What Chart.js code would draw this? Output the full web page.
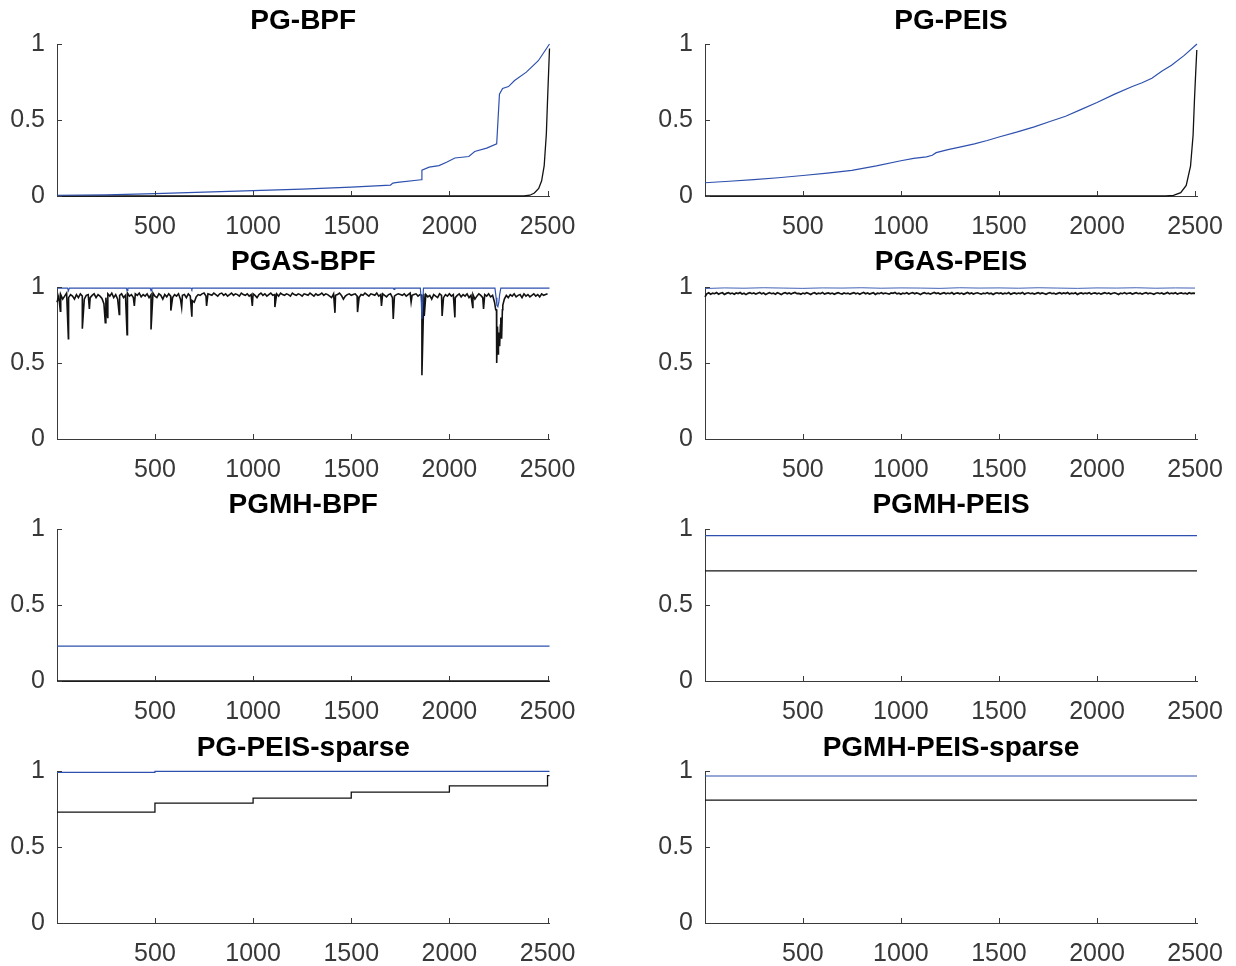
<!DOCTYPE html>
<html>
<head>
<meta charset="utf-8">
<script src="https://cdn.jsdelivr.net/npm/chart.js@4.4.1/dist/chart.umd.min.js"></script>
<style>
  html, body { margin: 0; padding: 0; background: #fff; width: 1236px; height: 966px; overflow: hidden; }
  canvas { position: absolute; }
</style>
</head>
<body>
<script>
// ---- shared axis ticks ----
const xTicks = [500, 1000, 1500, 2000, 2500];
const yTicks = [0, 0.5, 1];
const iterMin = 1;
const iterMax = 2510;

// ---- PG-BPF ----
const pgBpfBlueX = [1, 250, 500, 750, 1000, 1250, 1500, 1700, 1712, 1735, 1856, 1860, 1897, 1947, 1988, 2028, 2099, 2129, 2190, 2241, 2255, 2271, 2301, 2332, 2392, 2453, 2510];
const pgBpfBlueY = [0.005, 0.008, 0.015, 0.025, 0.035, 0.045, 0.059, 0.072, 0.085, 0.09, 0.107, 0.17, 0.19, 0.2, 0.224, 0.25, 0.26, 0.293, 0.315, 0.343, 0.67, 0.707, 0.72, 0.76, 0.815, 0.89, 1.0];
const pgBpfBlackX = [1, 2380, 2410, 2433, 2455, 2470, 2483, 2494, 2500, 2505, 2510];
const pgBpfBlackY = [0, 0, 0.005, 0.02, 0.05, 0.1, 0.2, 0.41, 0.63, 0.8, 0.97];

// ---- PG-PEIS ----
const pgPeisBlueX = [1, 125, 250, 375, 500, 625, 750, 875, 1000, 1065, 1130, 1160, 1180, 1240, 1300, 1375, 1440, 1500, 1590, 1680, 1760, 1840, 1920, 2000, 2090, 2180, 2230, 2280, 2330, 2380, 2445, 2510];
const pgPeisBlueY = [0.087, 0.097, 0.108, 0.12, 0.135, 0.15, 0.168, 0.198, 0.232, 0.248, 0.258, 0.268, 0.285, 0.305, 0.322, 0.343, 0.365, 0.388, 0.42, 0.455, 0.49, 0.525, 0.57, 0.615, 0.67, 0.72, 0.745, 0.775, 0.82, 0.86, 0.925, 1.0];
const pgPeisBlackX = [1, 2350, 2390, 2427, 2455, 2477, 2490, 2497, 2503, 2509];
const pgPeisBlackY = [0, 0, 0.004, 0.022, 0.07, 0.196, 0.4, 0.63, 0.8, 0.96];

// ---- PGAS-BPF (black sampled every 10 iterations, plus the deep dips) ----
const pgasBpfBlackBase = [
  0.90, 0.94, 0.95, 0.92, 0.94, 0.96, 0.93, 0.95, 0.94, 0.92, 0.95, 0.93, 0.955, 0.94, 0.92, 0.945, 0.95, 0.93, 0.945, 0.955, 0.93, 0.95, 0.94, 0.925, 0.89,
  0.93, 0.955, 0.94, 0.96, 0.93, 0.95, 0.92, 0.945, 0.955, 0.93, 0.945, 0.96, 0.94, 0.95, 0.93, 0.955, 0.945, 0.96, 0.935, 0.95, 0.94, 0.955, 0.93, 0.95, 0.96,
  0.94, 0.93, 0.955, 0.945, 0.92, 0.95, 0.935, 0.955, 0.94, 0.93, 0.95, 0.94, 0.955, 0.92, 0.945, 0.95, 0.93, 0.955, 0.94, 0.91, 0.9, 0.935, 0.95, 0.945, 0.955,
  0.96, 0.94, 0.955, 0.95, 0.945, 0.96, 0.95, 0.94, 0.955, 0.96, 0.945, 0.955, 0.94, 0.95, 0.96, 0.945, 0.955, 0.95, 0.94, 0.96, 0.95, 0.945, 0.955, 0.94, 0.95,
  0.955, 0.945, 0.93, 0.95, 0.96, 0.945, 0.955, 0.94, 0.95, 0.96, 0.945, 0.95, 0.955, 0.94, 0.96, 0.95, 0.945, 0.955, 0.95, 0.94, 0.96, 0.95, 0.945, 0.955, 0.95,
  0.94, 0.955, 0.95, 0.945, 0.96, 0.95, 0.94, 0.955, 0.945, 0.95, 0.96, 0.945, 0.955, 0.95, 0.94, 0.93, 0.955, 0.945, 0.95, 0.96, 0.945, 0.92, 0.94, 0.95, 0.955,
  0.945, 0.95, 0.955, 0.94, 0.93, 0.95, 0.945, 0.96, 0.95, 0.94, 0.955, 0.95, 0.945, 0.96, 0.94, 0.95, 0.955, 0.945, 0.935, 0.95, 0.955, 0.93, 0.94, 0.95, 0.955,
  0.95, 0.945, 0.955, 0.94, 0.95, 0.96, 0.945, 0.95, 0.955, 0.94, 0.95, 0.945, 0.955, 0.95, 0.935, 0.945, 0.92, 0.95, 0.94, 0.93, 0.955, 0.945, 0.93, 0.95, 0.94,
  0.955, 0.94, 0.95, 0.93, 0.945, 0.955, 0.935, 0.95, 0.94, 0.955, 0.93, 0.945, 0.95, 0.92, 0.94, 0.955, 0.945, 0.93, 0.95, 0.94, 0.955, 0.935, 0.945, 0.9, 0.85,
  0.7, 0.75, 0.85, 0.92, 0.945, 0.93, 0.95, 0.94, 0.955, 0.935, 0.945, 0.95, 0.93, 0.955, 0.94, 0.95, 0.935, 0.945, 0.955, 0.94, 0.95, 0.935, 0.955, 0.945, 0.95,
  0.955
];
const pgasBpfDipX = [18, 59, 130, 166, 247, 259, 318, 358, 395, 480, 581, 636, 688, 763, 996, 1111, 1417, 1532, 1654, 1714, 1805, 1860, 1872, 1963, 2028, 2119, 2174, 2236, 2241, 2245, 2249, 2253, 2256, 2262, 2266, 2272];
const pgasBpfDipY = [0.84, 0.66, 0.725, 0.855, 0.765, 0.8, 0.82, 0.686, 0.875, 0.72, 0.845, 0.866, 0.805, 0.875, 0.875, 0.868, 0.83, 0.835, 0.875, 0.79, 0.9, 0.42, 0.81, 0.81, 0.8, 0.866, 0.855, 0.85, 0.5, 0.74, 0.56, 0.68, 0.61, 0.8, 0.66, 0.88];
const pgasBpfBlueX = [1, 55, 59, 64, 354, 358, 362, 476, 480, 484, 684, 688, 692, 1714, 1718, 1722, 1852, 1857, 1860, 1864, 1868, 2232, 2238, 2242, 2247, 2252, 2256, 2262, 2510];
const pgasBpfBlueY = [0.993, 0.993, 0.975, 0.993, 0.993, 0.978, 0.993, 0.993, 0.975, 0.993, 0.993, 0.983, 0.993, 0.993, 0.985, 0.993, 0.993, 0.9, 0.79, 0.9, 0.993, 0.993, 0.93, 0.88, 0.87, 0.9, 0.95, 0.993, 0.993];

// ---- PGAS-PEIS (black every 10 iterations, blue every 100) ----
const pgasPeisBlack = [
  0.935, 0.955, 0.962, 0.952, 0.96, 0.956, 0.964, 0.953, 0.959, 0.962, 0.951, 0.958, 0.963, 0.955, 0.96, 0.952, 0.961, 0.957, 0.964, 0.954, 0.959, 0.95, 0.958, 0.962, 0.956,
  0.961, 0.953, 0.959, 0.964, 0.955, 0.96, 0.951, 0.957, 0.963, 0.956, 0.96, 0.953, 0.962, 0.957, 0.95, 0.959, 0.963, 0.955, 0.961, 0.954, 0.96, 0.964, 0.956, 0.958, 0.952,
  0.96, 0.955, 0.963, 0.957, 0.951, 0.959, 0.962, 0.954, 0.96, 0.956, 0.964, 0.953, 0.958, 0.961, 0.955, 0.96, 0.952, 0.958, 0.963, 0.957, 0.954, 0.961, 0.956, 0.96, 0.953,
  0.958, 0.963, 0.955, 0.96, 0.952, 0.959, 0.964, 0.956, 0.961, 0.954, 0.958, 0.962, 0.951, 0.959, 0.956, 0.963, 0.955, 0.96, 0.957, 0.953, 0.961, 0.958, 0.964, 0.955, 0.959,
  0.952, 0.96, 0.956, 0.962, 0.954, 0.959, 0.963, 0.955, 0.961, 0.957, 0.95, 0.958, 0.962, 0.956, 0.96, 0.953, 0.959, 0.964, 0.957, 0.961, 0.954, 0.958, 0.962, 0.955, 0.96,
  0.956, 0.963, 0.953, 0.959, 0.961, 0.955, 0.96, 0.952, 0.958, 0.964, 0.956, 0.961, 0.954, 0.959, 0.962, 0.957, 0.953, 0.96, 0.956, 0.963, 0.955, 0.959, 0.951, 0.958, 0.962,
  0.957, 0.961, 0.954, 0.96, 0.956, 0.963, 0.952, 0.958, 0.961, 0.955, 0.96, 0.957, 0.964, 0.953, 0.959, 0.962, 0.956, 0.96, 0.954, 0.958, 0.963, 0.955, 0.961, 0.957, 0.952,
  0.959, 0.963, 0.956, 0.96, 0.953, 0.958, 0.962, 0.955, 0.961, 0.957, 0.964, 0.954, 0.959, 0.956, 0.962, 0.951, 0.958, 0.961, 0.955, 0.96, 0.957, 0.963, 0.954, 0.959, 0.961,
  0.955, 0.96, 0.953, 0.958, 0.963, 0.956, 0.961, 0.954, 0.959, 0.962, 0.957, 0.951, 0.96, 0.956, 0.963, 0.955, 0.959, 0.961, 0.954, 0.958, 0.962, 0.956, 0.96, 0.953, 0.959,
  0.963, 0.955, 0.96, 0.957, 0.952, 0.959, 0.962, 0.956, 0.961, 0.954, 0.958, 0.964, 0.955, 0.96, 0.957, 0.962, 0.953, 0.959, 0.961, 0.956, 0.96, 0.954, 0.962, 0.957, 0.96,
  0.958
];
const pgasPeisBlue = [0.99, 0.994, 0.992, 0.995, 0.993, 0.991, 0.994, 0.993, 0.995, 0.992, 0.994, 0.993, 0.991, 0.995, 0.993, 0.994, 0.992, 0.995, 0.993, 0.991, 0.994, 0.993, 0.995, 0.992, 0.994, 0.993];

// ---- PGMH (constant acceptance) ----
const pgmhBpfBlue = 0.23;
const pgmhBpfBlack = 0.0;
const pgmhPeisBlue = 0.956;
const pgmhPeisBlack = 0.725;
const pgmhSparseBlue = 0.967;
const pgmhSparseBlack = 0.808;

// ---- PG-PEIS-sparse (piecewise constant) ----
const sparseBlackX = [1, 500, 1000, 1500, 2000, 2500, 2510];
const sparseBlackY = [0.73, 0.789, 0.822, 0.861, 0.902, 0.97, 0.97];
const sparseBlueX = [1, 500, 2510];
const sparseBlueY = [0.991, 0.998, 0.998];

// ---- helpers ----
const BLUE = '#2e50ae';
const BLACK = '#121212';
const AXIS = '#3a3a3a';
const TICK_TEXT = '#383838';

const zip = (xs, ys) => xs.map((x, i) => ({ x: x, y: ys[i] }));
const gridSeries = (vals, step) => vals.map((v, i) => ({ x: i === 0 ? iterMin : i * step, y: v }));
const flat = (v) => [{ x: iterMin, y: v }, { x: iterMax, y: v }];
const merged = (a, b) => a.concat(b).sort((p, q) => p.x - q.x);

const panels = [
  { title: 'PG-BPF', col: 0, row: 0,
    blue: zip(pgBpfBlueX, pgBpfBlueY), black: zip(pgBpfBlackX, pgBpfBlackY) },
  { title: 'PG-PEIS', col: 1, row: 0,
    blue: zip(pgPeisBlueX, pgPeisBlueY), black: zip(pgPeisBlackX, pgPeisBlackY) },
  { title: 'PGAS-BPF', col: 0, row: 1,
    blue: zip(pgasBpfBlueX, pgasBpfBlueY),
    black: merged(gridSeries(pgasBpfBlackBase, 10), zip(pgasBpfDipX, pgasBpfDipY)), blackWidth: 1.6 },
  { title: 'PGAS-PEIS', col: 1, row: 1,
    blue: gridSeries(pgasPeisBlue, 100), black: gridSeries(pgasPeisBlack, 10), blackWidth: 1.7, blueWidth: 0.9 },
  { title: 'PGMH-BPF', col: 0, row: 2,
    blue: flat(pgmhBpfBlue), black: flat(pgmhBpfBlack) },
  { title: 'PGMH-PEIS', col: 1, row: 2,
    blue: flat(pgmhPeisBlue), black: flat(pgmhPeisBlack) },
  { title: 'PG-PEIS-sparse', col: 0, row: 3,
    blue: zip(sparseBlueX, sparseBlueY), black: zip(sparseBlackX, sparseBlackY), stepped: true },
  { title: 'PGMH-PEIS-sparse', col: 1, row: 3,
    blue: flat(pgmhSparseBlue), black: flat(pgmhSparseBlack) }
];

// ---- layout of the 4x2 grid ----
const colAxisLeft = [57, 705];
const colAxisRight = [549.5, 1197];
const rowAxisTop = [44, 287, 529, 771];
const axisHeight = 152;
const titleGap = [23, 24.5, 23.5, 23];
const topSpace = 42;
const yAxisWidth = 57;
const xAxisHeight = 46;

// inward tick marks and panel titles
const panelDecor = {
  id: 'panelDecor',
  afterDraw(chart, args, opts) {
    const ctx = chart.ctx;
    const a = chart.chartArea;
    const xs = chart.scales.x, ys = chart.scales.y;
    ctx.save();
    ctx.strokeStyle = AXIS;
    ctx.lineWidth = 1;
    ctx.beginPath();
    xTicks.forEach(v => {
      const px = Math.round(xs.getPixelForValue(v)) + 0.5;
      ctx.moveTo(px, a.bottom);
      ctx.lineTo(px, a.bottom - 5);
    });
    yTicks.forEach(v => {
      const py = Math.round(ys.getPixelForValue(v)) + 0.5;
      ctx.moveTo(a.left, py);
      ctx.lineTo(a.left + 5, py);
    });
    ctx.stroke();
    ctx.fillStyle = '#000';
    ctx.font = 'bold 28px "Liberation Sans", Arial, Helvetica, sans-serif';
    ctx.textAlign = 'center';
    ctx.textBaseline = 'middle';
    ctx.fillText(opts.text, (a.left + a.right) / 2, a.top - opts.gap);
    ctx.restore();
  }
};

const tickFont = { family: '"Liberation Sans", Arial, Helvetica, sans-serif', size: 25 };

panels.forEach(p => {
  const canvas = document.createElement('canvas');
  const left = colAxisLeft[p.col] - yAxisWidth;
  const width = p.col === 0 ? 620 : 1236 - left;
  const top = rowAxisTop[p.row] - topSpace;
  const height = topSpace + axisHeight + xAxisHeight;
  canvas.width = width;
  canvas.height = height;
  canvas.style.left = left + 'px';
  canvas.style.top = top + 'px';
  canvas.style.width = width + 'px';
  canvas.style.height = height + 'px';
  document.body.appendChild(canvas);

  const rightPad = left + width - colAxisRight[p.col];

  new Chart(canvas, {
    type: 'line',
    data: {
      datasets: [
        { data: p.blue, borderColor: BLUE, borderWidth: p.blueWidth || 1.2, pointRadius: 0,
          tension: 0, stepped: p.stepped || false, clip: false },
        { data: p.black, borderColor: BLACK, borderWidth: p.blackWidth || 1.3, pointRadius: 0,
          tension: 0, stepped: p.stepped || false, clip: false }
      ]
    },
    options: {
      responsive: false,
      animation: false,
      devicePixelRatio: 1,
      layout: { padding: { top: topSpace, right: rightPad, left: 0, bottom: 0 } },
      plugins: {
        legend: { display: false },
        tooltip: { enabled: false },
        title: { display: false },
        panelDecor: { text: p.title, gap: titleGap[p.row] }
      },
      scales: {
        x: {
          type: 'linear', min: iterMin, max: iterMax,
          afterBuildTicks: s => { s.ticks = xTicks.map(v => ({ value: v })); },
          afterFit: s => { s.height = xAxisHeight; s.paddingLeft = 0; s.paddingRight = 0; },
          grid: { display: false, drawTicks: false },
          border: { display: true, color: AXIS, width: 1 },
          ticks: { font: tickFont, color: TICK_TEXT, padding: 16, maxRotation: 0, autoSkip: false,
                   callback: v => String(v) }
        },
        y: {
          type: 'linear', min: 0, max: 1,
          afterBuildTicks: s => { s.ticks = yTicks.map(v => ({ value: v })); },
          afterFit: s => { s.width = yAxisWidth; s.paddingTop = 0; s.paddingBottom = 0; },
          grid: { display: false, drawTicks: false },
          border: { display: true, color: AXIS, width: 1 },
          ticks: { font: tickFont, color: TICK_TEXT, padding: 12, autoSkip: false,
                   callback: v => String(v) }
        }
      }
    },
    plugins: [panelDecor]
  });
});
</script>
</body>
</html>
